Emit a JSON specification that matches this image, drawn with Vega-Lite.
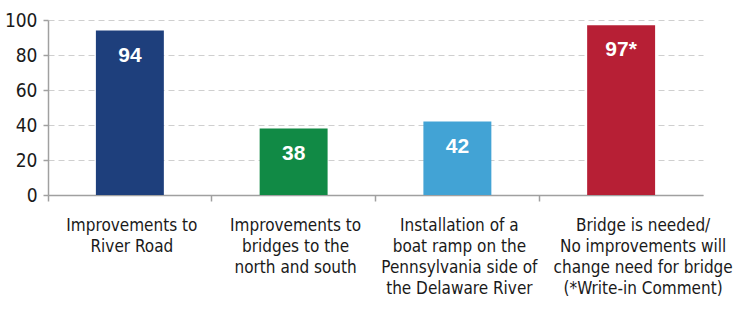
{
  "$schema": "https://vega.github.io/schema/vega-lite/v6.json",
  "width": 655,
  "height": 175,
  "autosize": "none",
  "padding": {"left": 48, "top": 20, "right": 36, "bottom": 114},
  "background": "white",
  "config": {"view": {"stroke": null}},
  "data": {
    "values": [
      {"category": "Improvements to|River Road", "value": 94, "label": "94", "color": "#1e3f7c"},
      {"category": "Improvements to|bridges to the|north and south", "value": 38, "label": "38", "color": "#118a45"},
      {"category": "Installation of a|boat ramp on the|Pennsylvania side of|the Delaware River", "value": 42, "label": "42", "color": "#42a3d5"},
      {"category": "Bridge is needed/|No improvements will|change need for bridge|(*Write-in Comment)", "value": 97, "label": "97*", "color": "#b71f35"}
    ]
  },
  "encoding": {
    "x": {
      "field": "category",
      "type": "nominal",
      "sort": null,
      "scale": {"paddingInner": 0, "paddingOuter": 0},
      "axis": {
        "title": null,
        "labelAngle": 0,
        "labelExpr": "split(datum.value, '|')",
        "labelFont": "'Liberation Sans Narrow', 'DejaVu Sans Condensed', 'Roboto Condensed', 'Liberation Sans', sans-serif",
        "labelFontSize": 17,
        "labelLineHeight": 21,
        "labelColor": "#1a1a1a",
        "labelBaseline": "top",
        "labelPadding": 16,
        "labelLimit": 0,
        "labelOffset": {"condition": {"test": "datum.index == 1", "value": 22}, "value": 2},
        "bandPosition": 0,
        "tickSize": 6,
        "tickColor": "#a0a0a0",
        "tickWidth": 1.5,
        "domainColor": "#a0a0a0",
        "domainWidth": 1.5,
        "labelOverlap": false,
        "labelBound": false
      }
    },
    "y": {
      "field": "value",
      "type": "quantitative",
      "scale": {"domain": [0, 100], "nice": false},
      "axis": {
        "title": null,
        "values": [0, 20, 40, 60, 80, 100],
        "labelFont": "'Liberation Sans Narrow', 'DejaVu Sans Condensed', 'Roboto Condensed', 'Liberation Sans', sans-serif",
        "labelFontSize": 19,
        "labelColor": "#1a1a1a",
        "labelPadding": 6,
        "tickSize": 5,
        "tickColor": "#a0a0a0",
        "tickWidth": 1.5,
        "domainColor": "#a0a0a0",
        "domainWidth": 1.5,
        "grid": true,
        "gridColor": "#cfcfcf",
        "gridDash": [6, 4],
        "gridWidth": 1
      }
    }
  },
  "layer": [
    {
      "mark": {"type": "bar", "width": {"band": 0.415}},
      "encoding": {
        "color": {"field": "color", "type": "nominal", "scale": null, "legend": null}
      }
    },
    {
      "mark": {"type": "text", "color": "white", "font": "Liberation Sans", "fontWeight": "bold", "fontSize": 21, "baseline": "middle", "dy": 25},
      "encoding": {
        "text": {"field": "label", "type": "nominal"}
      }
    }
  ]
}
